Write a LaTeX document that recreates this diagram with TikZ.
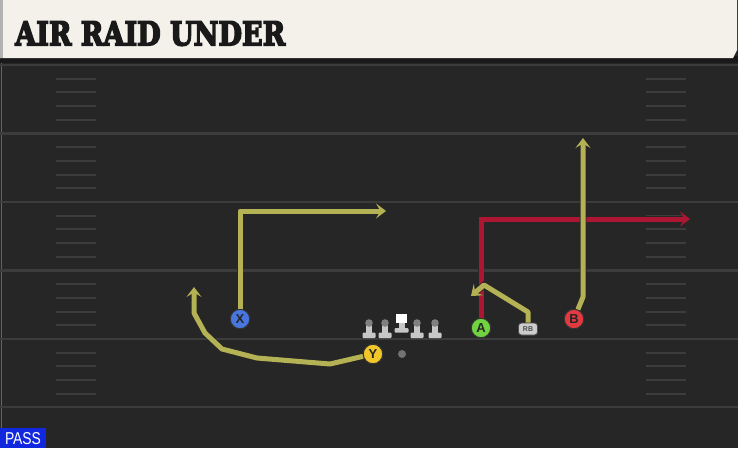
\documentclass[tikz,border=0pt]{standalone}
\usepackage{fontspec}
\setmainfont{Liberation Sans}
\newfontfamily\titlefont{DejaVu Serif}
\usetikzlibrary{arrows.meta}

\definecolor{field}{RGB}{38,38,38}
\definecolor{yardline}{RGB}{60,60,60}
\definecolor{titlebg}{RGB}{243,241,234}
\definecolor{routeyellow}{RGB}{180,178,84}
\definecolor{routered}{RGB}{172,22,50}
\definecolor{xblue}{RGB}{72,118,222}
\definecolor{ygold}{RGB}{240,198,40}
\definecolor{agreen}{RGB}{112,210,64}
\definecolor{bred}{RGB}{226,58,64}
\definecolor{passblue}{RGB}{18,40,222}

% heavier title: stroke the glyph outlines as well
\newcommand{\heavytext}[1]{\special{pdf:literal direct 2 Tr 0.5 w}#1\special{pdf:literal direct 0 Tr}}

\begin{document}
\begin{tikzpicture}[x=1pt, y=-1pt, >={Stealth[length=10pt, width=15pt, inset=4.5pt]},
		route/.style={->, line width=5pt, routeyellow, line join=round, preaction={draw=black!85, line width=6.5pt}},
		block/.style={->, line width=5pt, routered, preaction={draw=black!85, line width=6.5pt}},
		player/.style={circle, draw=black!80, line width=1pt, minimum size=19.5pt, inner sep=0pt, text=black!85, font=\bfseries\fontsize{13}{13}\selectfont},
		backfield/.style={rounded corners=3pt, draw=black!70, line width=0.8pt, fill=black!20, minimum width=19pt, minimum height=12pt, inner sep=0pt, text=black!70, font=\bfseries\fontsize{7}{7}\selectfont}]

	\useasboundingbox (0,0) rectangle (738,448);
	\fill[field] (0,0) rectangle (738,448);

	% title bar
	\fill[black!90] (0,56) rectangle (738,63);
	\fill[titlebg] (0,0) -- (737,0) -- (737,50) -- (733,58) -- (0,58) -- cycle;
	\fill[black!30] (0,0) rectangle (3,58);
	\node[anchor=south west, inner sep=0pt, text=black!90] (title) at (15,46) {\resizebox{270pt}{24pt}{\titlefont\bfseries\heavytext{AIR RAID UNDER}}};

	% yard lines and hash marks
	\draw[yardline!80] (1,63) -- (1,448);
	\foreach \y in {65, 133.5, 202, 270.5, 339} {
			\draw[yardline, line width=2.5pt] (0,\y) -- (738,\y);
			\foreach \k in {1,...,4} {
					\draw[yardline, line width=2pt] (56,\y+\k*13.7) -- (96,\y+\k*13.7);
					\draw[yardline, line width=2pt] (646,\y+\k*13.7) -- (686,\y+\k*13.7);
				}
		}
	\draw[yardline, line width=2.5pt] (0,407) -- (738,407);

	% offensive line
	\foreach \x in {369, 385, 417, 435} {
			\fill[black!22] (\x-3,324) rectangle (\x+3,334);
			\fill[black!22, rounded corners=1pt] (\x-6.5,332.5) rectangle (\x+6.5,338);
			\fill[black!50] (\x,323) circle (3.8);
		}
	\fill[black!22] (398.5,322) rectangle (404.5,330);
	\fill[black!22, rounded corners=1pt] (394.5,328) rectangle (408.5,332.5);
	\fill[white] (396,314) rectangle (407,323);

	% skill players
	\node[player, fill=xblue] (X) at (240,319) {X};
	\node[player, fill=ygold] (Y) at (373,354) {Y};
	\node[player, fill=agreen] (A) at (481,328) {A};
	\node[player, fill=bred] (B) at (574,319) {B};
	\node[backfield] (RB) at (528,329) {RB};
	\node[circle, fill=black!55, minimum size=8pt, inner sep=0pt] (QB) at (402,354) {};

	\coordinate (xcut) at (240,211);
	\coordinate (xend) at (386,211);
	\coordinate (acut) at (481,219);
	\coordinate (aend) at (690,219);
	\coordinate (bcut) at (583,297);
	\coordinate (bend) at (583,138);
	\coordinate (rbend) at (471,296);
	\coordinate (yend) at (194,287);

	% routes
	\draw[block] (A) -- (acut) -- (aend);
	\draw[route] (X) -- (xcut) -- (xend);
	\draw[route] (B) -- (bcut) -- (bend);
	\draw[route] (RB) -- (528,312) -- (484,285) -- (rbend);
	\draw[route] (Y) -- (330,364) -- (257,358) -- (222,349) -- (205,333) -- (194,313) -- (yend);

	% play type tag
	\fill[passblue] (0,428) rectangle (46,448);
	\node[inner sep=0pt, text=white] (pass) at (23,439) {\resizebox{36pt}{12pt}{PASS}};
\end{tikzpicture}
\end{document}
